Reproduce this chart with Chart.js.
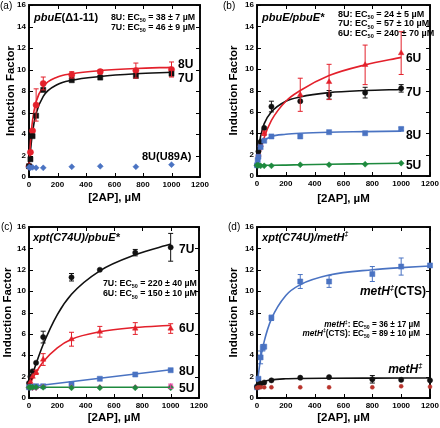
<!DOCTYPE html>
<html><head><meta charset="utf-8">
<script src="https://cdn.jsdelivr.net/npm/chart.js@4.4.0/dist/chart.umd.min.js"></script>
<style>
html,body{margin:0;padding:0;background:#fff;}
#wrap{position:relative;width:440px;height:428px;overflow:hidden;}
canvas{position:absolute;}
</style></head><body>
<div id="wrap">
<canvas id="ca" width="220" height="214" style="left:0;top:0"></canvas>
<canvas id="cb" width="220" height="214" style="left:220px;top:0"></canvas>
<canvas id="cc" width="220" height="214" style="left:0;top:214px"></canvas>
<canvas id="cd" width="220" height="214" style="left:220px;top:214px"></canvas>
</div>
<script>
// ---------- Panel (a) pbuE(Δ1-11) ----------
const aX = [0, 10, 25, 50, 100, 300, 500, 750, 1000];
const a8U = [1.0, 2.3, 4.3, 6.7, 8.7, 9.5, 9.8, 9.9, 10.0];
const a8Uerr = [0, 0, 0, 1.5, 0.6, 0.3, 0.2, 0.7, 0.7];
const a7U = [1.0, 1.65, 3.8, 5.7, 8.1, 9.0, 9.25, 9.4, 9.6];
const aU89AX = [0, 5, 10, 25, 50, 100, 300, 500, 750, 1000];
const aU89A = [0.9, 0.9, 0.85, 0.9, 0.85, 0.85, 0.95, 1.0, 0.95, 1.15];
const aFitX = [0, 10, 25, 50, 100, 200, 300, 500, 750, 1000];
const a8UFit = [1.0, 3.2, 5.3, 7.0, 8.4, 9.3, 9.6, 9.9, 10.1, 10.2];
const a7UFit = [1.0, 2.4, 4.2, 5.9, 7.5, 8.6, 9.0, 9.35, 9.6, 9.75];

// ---------- Panel (b) pbuE/pbuE* ----------
const bX = [0, 10, 25, 50, 100, 300, 500, 750, 1000];
const b6UX = [10, 25, 50, 300, 500, 750, 1000];
const b6U = [2.0, 2.9, 4.0, 7.6, 8.8, 10.4, 11.5];
const b6Uerr = [0, 0, 0.2, 1.55, 1.65, 1.85, 2.0];
const b7U = [1.0, 2.3, 3.2, 4.5, 6.5, 7.0, 7.6, 7.8, 8.2];
const b7Uerr = [0, 0, 0, 0, 0.5, 0, 0.4, 0.5, 0.35];
const b8UX = [0, 5, 10, 25, 50, 100, 300, 500, 750, 1000];
const b8U = [1.0, 1.5, 1.8, 2.7, 3.3, 3.7, 3.7, 4.1, 4.0, 4.4];
const b8Uerr = [0, 0, 0, 0, 0, 0, 0, 0, 0, 0.15];
const b5U = [1.0, 1.0, 0.95, 0.95, 0.95, 1.05, 1.05, 1.1, 1.2];
const bFitX = [0, 10, 25, 50, 100, 200, 300, 500, 750, 1000];
const b6UFit = [1.0, 1.5, 2.4, 3.6, 5.2, 7.0, 8.0, 9.4, 10.4, 11.1];
const b7UFit = [1.5, 2.5, 3.7, 4.9, 6.0, 7.0, 7.4, 7.8, 8.0, 8.1];
const b8UFit = [1.0, 2.0, 2.8, 3.3, 3.7, 3.9, 4.0, 4.1, 4.15, 4.2];
const b5UFit = [1.0, 1.0, 1.0, 1.0, 1.0, 1.02, 1.05, 1.1, 1.15, 1.2];

// ---------- Panel (c) xpt(C74U)/pbuE* ----------
const cX = [0, 10, 25, 50, 100, 300, 500, 750, 1000];
const c7U = [1.4, 2.0, 2.5, 3.3, 5.7, 11.3, 12.0, 13.6, 14.1];
const c7Uerr = [0, 0, 0, 0, 0.55, 0.35, 0, 0.3, 1.3];
const c6U = [1.0, 1.5, 2.0, 2.4, 3.6, 5.5, 6.2, 6.5, 6.5];
const c6Uerr = [0, 0, 0, 0.2, 0.55, 0.65, 0.5, 0.55, 0.45];
const c8U = [1.0, 1.0, 1.05, 1.1, 1.1, 1.3, 1.8, 2.2, 2.6];
const c5Ugreen = [1.0, 1.0, 1.0, 1.0, 1.0, 0.95, 0.95, 0.95, 0.95];
const c5U = [1.0, 1.0, 0.95, 0.95, 1.05, 1.0, 1.0, 1.0, 1.1];
const c5Uerr = [0, 0, 0, 0, 0, 0, 0, 0, 0.2];
const cFitX = [0, 25, 50, 100, 200, 300, 500, 750, 1000];
const c7UFit = [1.0, 2.2, 3.2, 5.0, 7.8, 9.7, 11.9, 13.4, 14.4];
const c6UFit = [1.0, 1.8, 2.4, 3.4, 4.7, 5.5, 6.2, 6.6, 6.8];
const cLineX = [0, 1000];
const c8ULine = [1.05, 2.65];
const c5ULine = [1.0, 1.0];

// ---------- Panel (d) xpt(C74U)/metH‡ ----------
const dCTSX = [0, 10, 25, 40, 50, 100, 300, 500, 800, 1000, 1200];
const dCTS = [1.0, 1.8, 3.8, 4.7, 4.8, 7.5, 10.9, 10.9, 11.6, 12.3, 12.4];
const dCTSerr = [0, 0, 0.6, 0.3, 0, 0.25, 0.65, 0.55, 0.7, 0.8, 0];
const dX = [0, 10, 25, 50, 100, 300, 500, 800, 1000, 1200];
const dMetH = [1.05, 1.25, 1.35, 1.45, 1.65, 1.9, 1.95, 1.75, 1.7, 1.65];
const dMetHerr = [0, 0, 0, 0, 0, 0, 0, 0.35, 0, 0];
const dCtrl = [0.95, 1.0, 1.0, 1.0, 1.0, 1.0, 1.0, 1.0, 1.1, 1.05];
const dCTSFitX = [0, 10, 25, 50, 100, 200, 300, 500, 800, 1000, 1200];
const dCTSFit = [1.0, 2.2, 3.7, 5.3, 7.4, 9.6, 10.6, 11.5, 12.0, 12.2, 12.35];
const dMetHFitX = [0, 25, 50, 100, 200, 300, 500, 800, 1200];
const dMetHFit = [1.0, 1.4, 1.55, 1.7, 1.8, 1.83, 1.85, 1.86, 1.87];

// ---------- Axis ticks ----------
const xTicks = [0, 200, 400, 600, 800, 1000, 1200];
const yTicks = [0, 2, 4, 6, 8, 10, 12, 14, 16];

const FF = "'Liberation Sans', Arial, Helvetica, sans-serif";
const RED = '#e3202b', BLACK = '#111111', BLUE = '#4a73c2', GREEN = '#1e8a3e', MAGENTA = '#e2449e', DRED = '#b8342c';

function pts(xs, ys) { return xs.map((x, i) => ({x: x, y: ys[i]})); }

const ERRS = new Map();
function scatter(xs, ys, color, style, r, err) {
  const ds = {type: 'line', data: pts(xs, ys), showLine: false, pointStyle: style, pointRadius: r,
    pointBackgroundColor: color, pointBorderColor: color, pointBorderWidth: 0.5,
    borderColor: color, backgroundColor: color, order: 0, clip: false};
  if (err) ERRS.set(ds, err);
  return ds;
}
function fit(xs, ys, color) {
  return {type: 'line', data: pts(xs, ys), showLine: true, pointRadius: 0, borderColor: color,
    borderWidth: 1.6, cubicInterpolationMode: 'monotone', fill: false, order: 1, clip: false};
}

function drawRich(ctx, px, pcy, segs, size, align) {
  let total = 0;
  const parts = segs.map(s => {
    const st = (typeof s === 'string') ? {t: s} : s;
    const small = !!(st.sb || st.sp);
    const fs = small ? size * 0.62 : size;
    const font = (st.i ? 'italic ' : '') + 'bold ' + fs + 'px ' + FF;
    ctx.font = font;
    const w = ctx.measureText(st.t).width;
    total += w;
    return {st: st, font: font, w: w};
  });
  let x = align === 'right' ? px - total : px;
  const base = pcy + size * 0.36;
  ctx.textAlign = 'left'; ctx.textBaseline = 'alphabetic'; ctx.fillStyle = '#000';
  parts.forEach(p => {
    ctx.font = p.font;
    let dy = 0;
    if (p.st.sb) dy = size * 0.25;
    if (p.st.sp) dy = -size * 0.42;
    ctx.fillText(p.st.t, x, base + dy);
    x += p.w;
  });
}

const framePlugin = {
  id: 'frame',
  beforeDatasetsDraw(chart) {
    const {ctx, chartArea: a, scales: {x, y}} = chart;
    ctx.save();
    ctx.strokeStyle = '#000';
    ctx.lineWidth = 1;
    xTicks.forEach(v => {
      const p = Math.round(x.getPixelForValue(v)) + 0.5;
      ctx.beginPath(); ctx.moveTo(p, a.bottom); ctx.lineTo(p, a.bottom - 4);
      ctx.moveTo(p, a.top); ctx.lineTo(p, a.top + 4); ctx.stroke();
    });
    yTicks.forEach(v => {
      const p = Math.round(y.getPixelForValue(v)) + 0.5;
      ctx.beginPath(); ctx.moveTo(a.left, p); ctx.lineTo(a.left + 4, p);
      ctx.moveTo(a.right, p); ctx.lineTo(a.right - 4, p); ctx.stroke();
    });
    ctx.lineWidth = 1.9;
    ctx.strokeRect(a.left, a.top, a.right - a.left, a.bottom - a.top);
    ctx.restore();
  }
};

const errPlugin = {
  id: 'errbars',
  afterDatasetsDraw(chart) {
    const {ctx, scales: {y}} = chart;
    ctx.save();
    chart.config.data.datasets.forEach((ds, i) => {
      const err = ERRS.get(ds);
      if (!err) return;
      const meta = chart.getDatasetMeta(i);
      ctx.strokeStyle = ds.borderColor; ctx.lineWidth = 1;
      ds.data.forEach((d, j) => {
        const e = err[j];
        if (!e) return;
        const px = meta.data[j].x;
        const t = y.getPixelForValue(d.y + e), b = y.getPixelForValue(d.y - e);
        ctx.beginPath();
        ctx.moveTo(px, t); ctx.lineTo(px, b);
        ctx.moveTo(px - 2.5, t); ctx.lineTo(px + 2.5, t);
        ctx.moveTo(px - 2.5, b); ctx.lineTo(px + 2.5, b);
        ctx.stroke();
      });
    });
    ctx.restore();
  }
};

const TEXTS = new Map();
const textPlugin = {
  id: 'texts',
  afterDraw(chart) {
    const o = TEXTS.get(chart.canvas.id);
    if (!o) return;
    const {ctx, scales: {x, y}} = chart;
    ctx.save();
    o.items.forEach(it => {
      drawRich(ctx, x.getPixelForValue(it.x), y.getPixelForValue(it.y), it.segs, it.size, it.align);
    });
    ctx.font = 'normal 10px ' + FF; ctx.fillStyle = '#000';
    ctx.textAlign = 'left'; ctx.textBaseline = 'middle';
    ctx.fillText(o.panel.t, o.panel.x, o.panel.y);
    ctx.restore();
  }
};

function makePanel(id, p) {
  const W = 220, H = 214;
  TEXTS.set(id, {items: p.texts, panel: p.panel});
  return new Chart(document.getElementById(id), {
    type: 'line',
    data: {datasets: p.datasets},
    plugins: [framePlugin, errPlugin, textPlugin],
    options: {
      responsive: false, animation: false, events: [],
      layout: {padding: {left: 0, top: p.area.top, right: W - p.area.right, bottom: 0}},
      plugins: {legend: {display: false}, tooltip: {enabled: false}},
      scales: {
        x: {type: 'linear', min: 0, max: 1200,
          afterBuildTicks(s) { s.ticks = xTicks.map(v => ({value: v})); },
          ticks: {font: {family: FF, size: 8, weight: 'bold'}, color: '#000', padding: 3, maxRotation: 0, autoSkip: false,
            callback: v => String(v)},
          grid: {display: false, drawTicks: false}, border: {display: false},
          title: {display: true, text: '[2AP], µM', color: '#000', font: {family: FF, size: 11.5, weight: 'bold'}, padding: {top: 0, bottom: p.xTitlePad}},
          afterFit(s) { s.height = H - p.area.bottom; s.paddingLeft = 0; s.paddingRight = 0; }
        },
        y: {type: 'linear', min: 0, max: 16,
          afterBuildTicks(s) { s.ticks = yTicks.map(v => ({value: v})); },
          ticks: {font: {family: FF, size: 8, weight: 'bold'}, color: '#000', padding: 3, autoSkip: false,
            callback: v => String(v)},
          grid: {display: false, drawTicks: false}, border: {display: false},
          title: {display: true, text: 'Induction Factor', color: '#000', font: {family: FF, size: 11.5, weight: 'bold'}, padding: {top: p.yTitlePad, bottom: 0}},
          afterFit(s) { s.width = p.area.left; s.paddingTop = 0; s.paddingBottom = 0; }
        }
      }
    }
  });
}

// Panel (a)
makePanel('ca', {
  area: {left: 29, right: 200, top: 5, bottom: 177}, xTitlePad: 9, yTitlePad: 4,
  panel: {t: '(a)', x: 0, y: 6},
  datasets: [
    fit(aFitX, a8UFit, RED), fit(aFitX, a7UFit, BLACK),
    scatter(aU89AX, aU89A, BLUE, 'rectRot', 3),
    scatter(aX, a7U, BLACK, 'rect', 3.6),
    scatter(aX, a8U, RED, 'circle', 3.1, a8Uerr)
  ],
  texts: [
    {x: 35, y: 14.9, size: 11, segs: [{t: 'pbuE', i: true}, '(Δ1-11)']},
    {x: 575, y: 14.9, size: 8.8, segs: ['8U: EC', {t: '50', sb: true}, ' = 38 ± 7 µM']},
    {x: 575, y: 14.0, size: 8.8, segs: ['7U: EC', {t: '50', sb: true}, ' = 46 ± 9 µM']},
    {x: 1046, y: 10.5, size: 12, segs: ['8U']},
    {x: 1046, y: 9.2, size: 12, segs: ['7U']},
    {x: 793, y: 1.95, size: 11, segs: ['8U(U89A)']}
  ]
});

// Panel (b)
makePanel('cb', {
  area: {left: 37, right: 210, top: 5, bottom: 176}, xTitlePad: 8, yTitlePad: 7,
  panel: {t: '(b)', x: 3, y: 6},
  datasets: [
    fit(bFitX, b6UFit, RED), fit(bFitX, b7UFit, BLACK), fit(bFitX, b8UFit, BLUE), fit(bFitX, b5UFit, GREEN),
    scatter(bX, b5U, GREEN, 'rectRot', 3),
    scatter(b8UX, b8U, BLUE, 'rect', 3.6, b8Uerr),
    scatter(bX, b7U, BLACK, 'circle', 2.6, b7Uerr),
    scatter(b6UX, b6U, RED, 'triangle', 3.2, b6Uerr)
  ],
  texts: [
    {x: 35, y: 14.9, size: 11, segs: [{t: 'pbuE/pbuE*', i: true}]},
    {x: 562, y: 15.2, size: 9, segs: ['8U: EC', {t: '50', sb: true}, ' = 24 ± 5 µM']},
    {x: 562, y: 14.3, size: 9, segs: ['7U: EC', {t: '50', sb: true}, ' = 57 ± 10 µM']},
    {x: 562, y: 13.4, size: 9, segs: ['6U: EC', {t: '50', sb: true}, ' = 240 ± 70 µM']},
    {x: 1033, y: 11.1, size: 12, segs: ['6U']},
    {x: 1033, y: 7.9, size: 12, segs: ['7U']},
    {x: 1033, y: 3.9, size: 12, segs: ['8U']},
    {x: 1033, y: 1.1, size: 12, segs: ['5U']}
  ]
});

// Panel (c)
makePanel('cc', {
  area: {left: 29, right: 199, top: 13, bottom: 184}, xTitlePad: 3, yTitlePad: 1,
  panel: {t: '(c)', x: 1, y: 13},
  datasets: [
    fit(cFitX, c7UFit, BLACK), fit(cFitX, c6UFit, RED), fit(cLineX, c8ULine, BLUE), fit(cLineX, c5ULine, GREEN),
    scatter(cX, c5Ugreen, GREEN, 'rectRot', 3),
    scatter(cX, c5U, MAGENTA, 'rectRot', 2.8, c5Uerr),
    scatter(cX, c8U, BLUE, 'rect', 3.6),
    scatter(cX, c6U, RED, 'triangle', 3.2, c6Uerr),
    scatter(cX, c7U, BLACK, 'circle', 2.6, c7Uerr)
  ],
  texts: [
    {x: 28, y: 15.1, size: 11, segs: [{t: 'xpt(C74U)/pbuE*', i: true}]},
    {x: 522, y: 10.8, size: 8.8, segs: ['7U: EC', {t: '50', sb: true}, ' = 220 ± 40 µM']},
    {x: 522, y: 9.8, size: 8.8, segs: ['6U: EC', {t: '50', sb: true}, ' = 150 ± 10 µM']},
    {x: 1059, y: 14.0, size: 12, segs: ['7U']},
    {x: 1059, y: 6.6, size: 12, segs: ['6U']},
    {x: 1059, y: 2.6, size: 12, segs: ['8U']},
    {x: 1059, y: 1.0, size: 12, segs: ['5U']}
  ]
});

// Panel (d)
makePanel('cd', {
  area: {left: 37, right: 210, top: 13, bottom: 184}, xTitlePad: 3, yTitlePad: 7,
  panel: {t: '(d)', x: 8, y: 13},
  datasets: [
    fit(dCTSFitX, dCTSFit, BLUE), fit(dMetHFitX, dMetHFit, BLACK),
    scatter(dX, dCtrl, DRED, 'circle', 2),
    scatter(dX, dMetH, BLACK, 'circle', 2.6, dMetHerr),
    scatter(dCTSX, dCTS, BLUE, 'rect', 3.6, dCTSerr)
  ],
  texts: [
    {x: 35, y: 15.1, size: 11, segs: [{t: 'xpt(C74U)/metH', i: true}, {t: '‡', sp: true, i: true}]},
    {x: 714, y: 10.0, size: 12, segs: [{t: 'metH', i: true}, {t: '‡', sp: true, i: true}, '(CTS)']},
    {x: 1131, y: 6.9, size: 8.2, align: 'right', segs: [{t: 'metH', i: true}, {t: '‡', sp: true}, ': EC', {t: '50', sb: true}, ' = 36 ± 17 µM']},
    {x: 1131, y: 6.1, size: 8.2, align: 'right', segs: [{t: 'metH', i: true}, {t: '‡', sp: true}, '(CTS): EC', {t: '50', sb: true}, ' = 89 ± 10 µM']},
    {x: 910, y: 2.7, size: 12, segs: [{t: 'metH', i: true}, {t: '‡', sp: true, i: true}]}
  ]
});
</script>
</body></html>
